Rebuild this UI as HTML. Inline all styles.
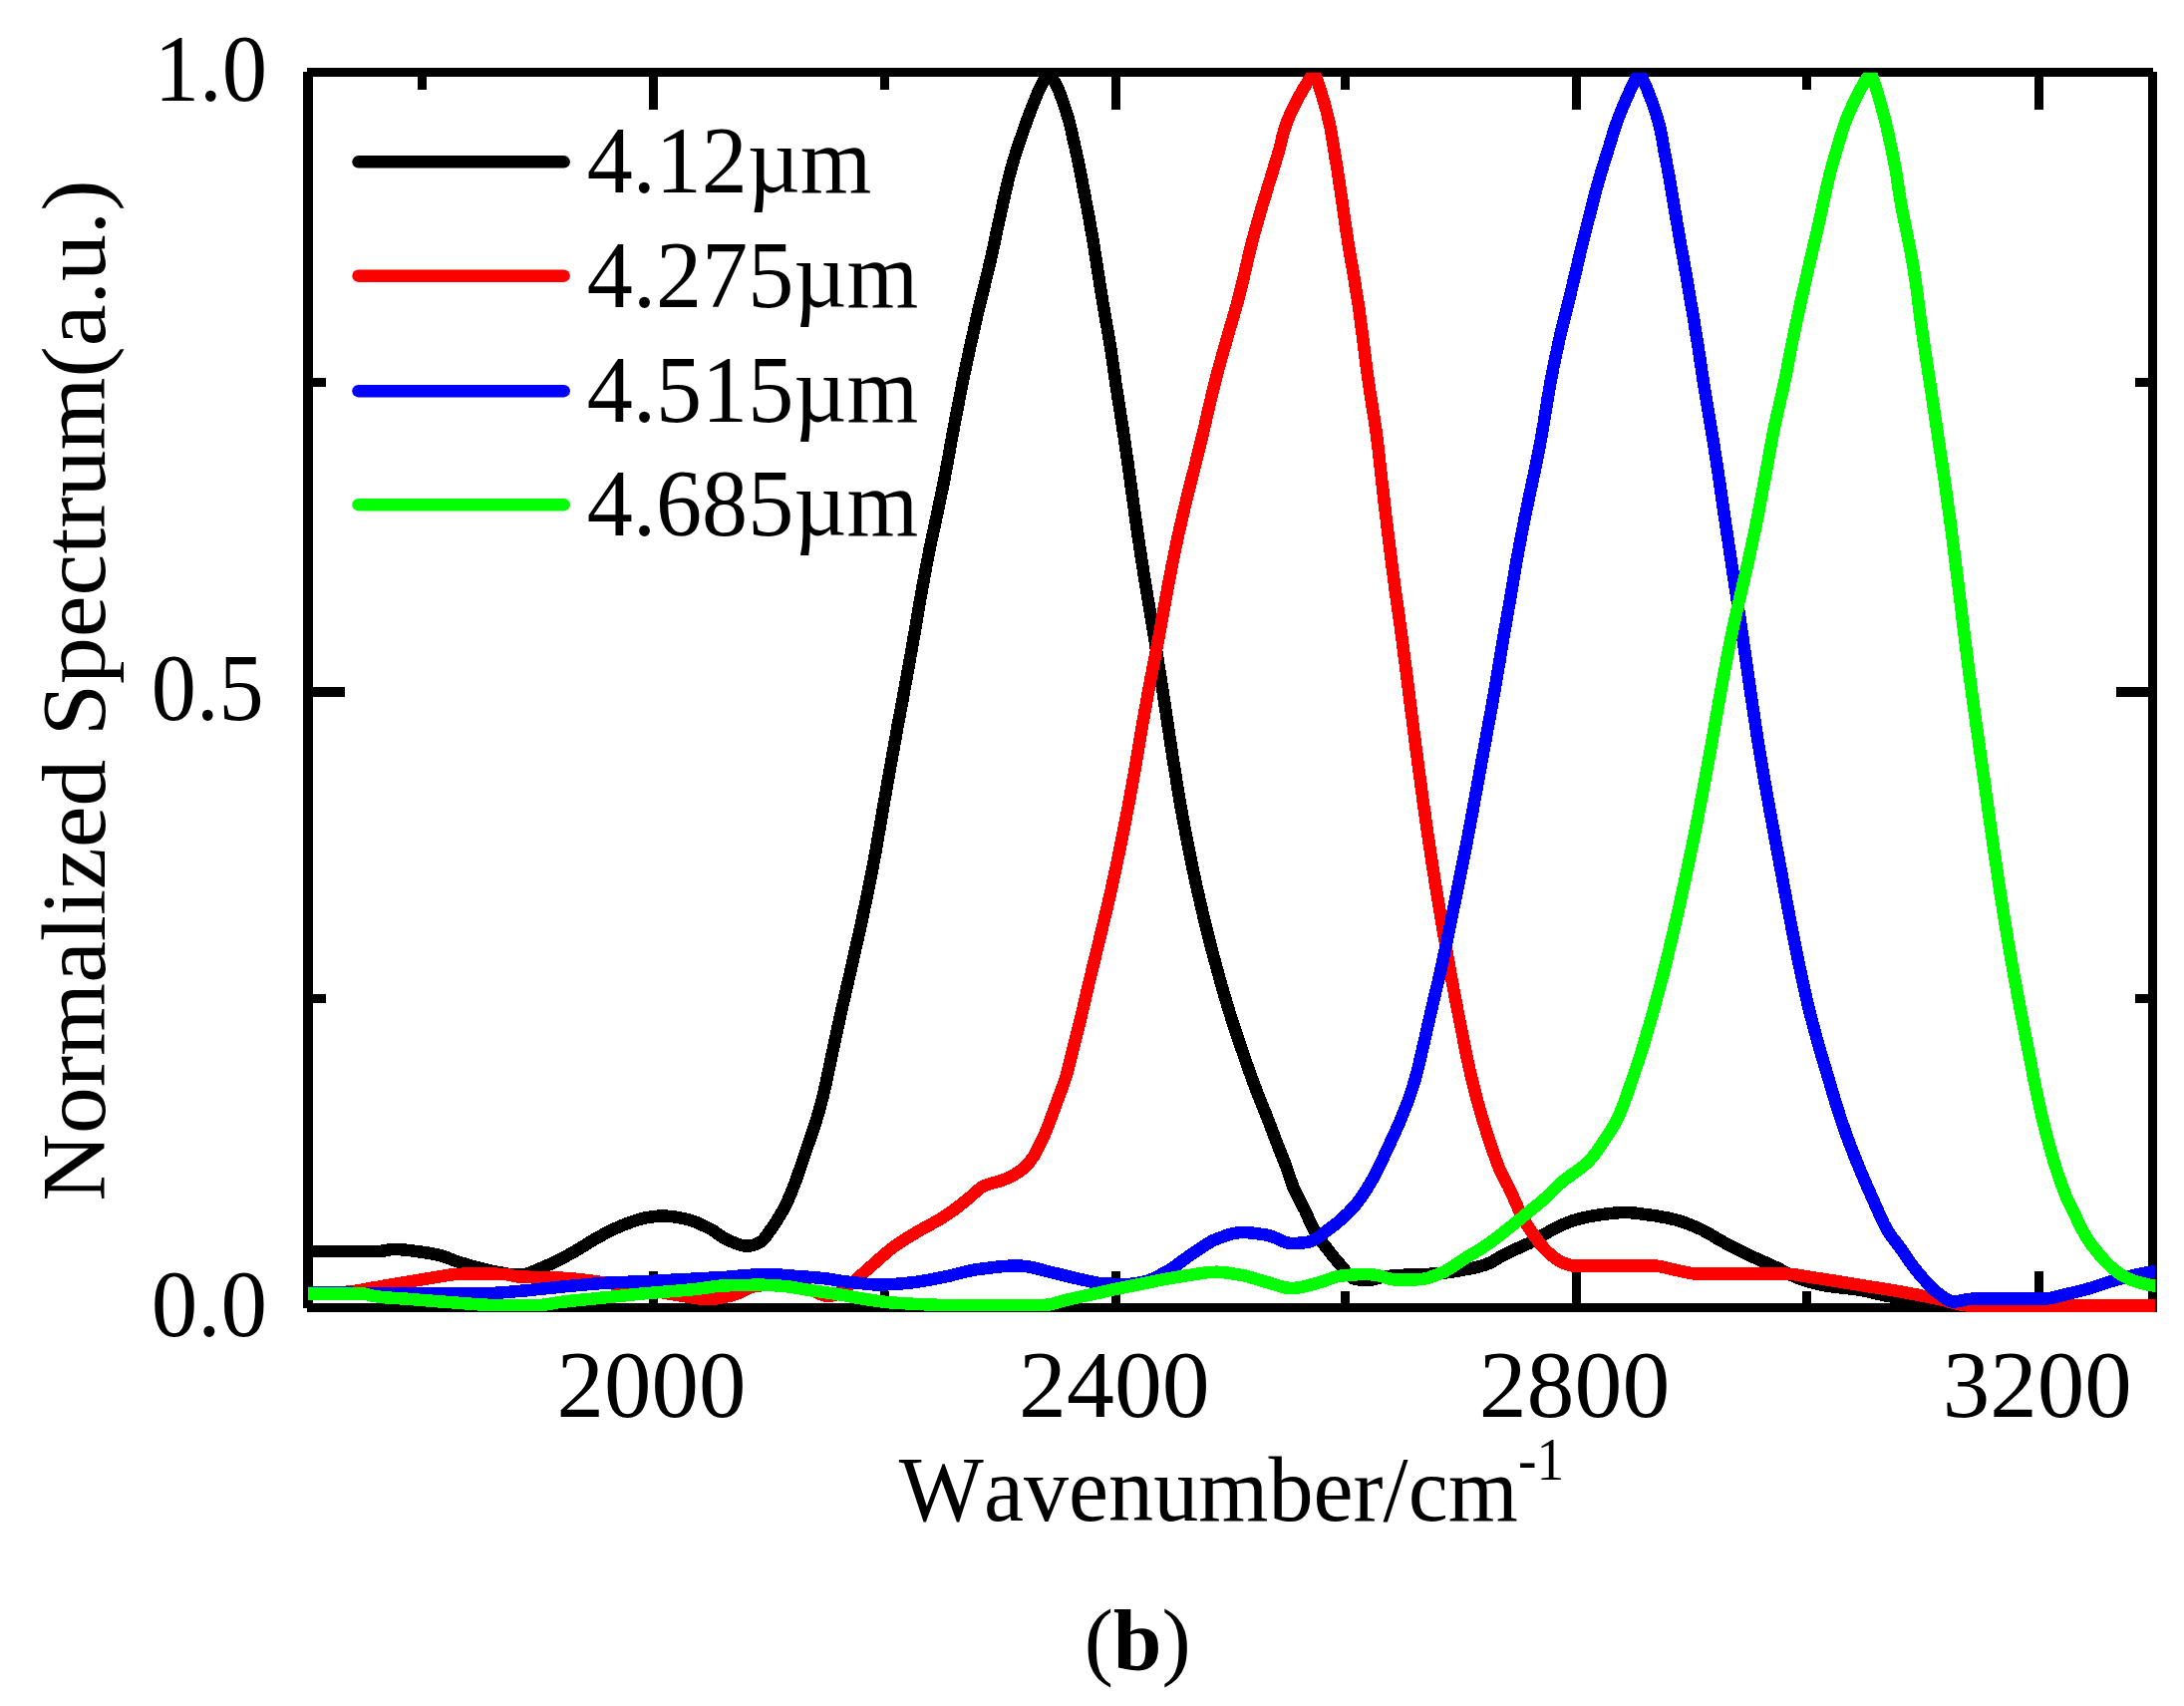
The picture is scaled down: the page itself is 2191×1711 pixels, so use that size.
<!DOCTYPE html>
<html lang="en"><head><meta charset="utf-8"><title>Normalized Spectrum (b)</title>
<style>html,body{margin:0;padding:0;background:#fff;}body{width:2191px;height:1711px;overflow:hidden;}svg{display:block;}text{font-family:"Liberation Serif",serif;font-kerning:none;fill:#000;}</style></head><body>
<svg width="2191" height="1711" viewBox="0 0 2191 1711">
<rect x="0" y="0" width="2191" height="1711" fill="#fff"/>
<defs><clipPath id="plotclip"><rect x="309" y="72.8" width="1853.5" height="1243.2"/></clipPath></defs>
<g stroke="#000" stroke-width="9.5" fill="none" stroke-linecap="butt" shape-rendering="crispEdges">
<path d="M309.0 71.5 V1311.5"/>
<path d="M2159.5 71.5 V1316.0"/>
<path d="M308.0 72.5 H2160.0"/>
<path d="M308.0 1311.5 H2164.0"/>
</g>
<g stroke="#000" stroke-width="9.0" fill="none" shape-rendering="crispEdges">
<path d="M655.5 76.2 v34"/>
<path d="M655.5 1307.8 v-33"/>
<path d="M1119.5 76.2 v34"/>
<path d="M1119.5 1307.8 v-33"/>
<path d="M1581.5 76.2 v34"/>
<path d="M1581.5 1307.8 v-33"/>
<path d="M2045.5 76.2 v34"/>
<path d="M2045.5 1307.8 v-33"/>
<path d="M423.5 76.2 v14"/>
<path d="M423.5 1307.8 v-13"/>
<path d="M887.5 76.2 v14"/>
<path d="M887.5 1307.8 v-13"/>
<path d="M1349.5 76.2 v14"/>
<path d="M1349.5 1307.8 v-13"/>
<path d="M1812.5 76.2 v14"/>
<path d="M1812.5 1307.8 v-13"/>
<path stroke-width="10" d="M312.8 694.0 h33"/>
<path stroke-width="10" d="M2155.8 694.0 h-33"/>
<path d="M312.8 383.5 h14"/>
<path d="M2155.8 383.5 h-14"/>
<path d="M312.8 1001.5 h14"/>
<path d="M2155.8 1001.5 h-14"/>
</g>
<g clip-path="url(#plotclip)" fill="none" stroke-width="12.5" stroke-linejoin="round" stroke-linecap="butt" shape-rendering="crispEdges">
<path stroke="#000000" d="M300.0 1255.0 L304.0 1255.0 L308.0 1255.0 L312.0 1255.0 L316.1 1255.0 L320.1 1255.0 L324.1 1255.0 L328.1 1255.0 L332.1 1255.0 L336.1 1255.0 L340.1 1255.0 L344.2 1255.0 L348.2 1255.0 L352.2 1255.0 L356.2 1255.0 L360.2 1255.0 L364.2 1255.0 L368.2 1255.0 L372.3 1255.0 L376.3 1255.0 L380.3 1255.0 L384.3 1254.6 L388.3 1253.8 L392.3 1253.2 L396.3 1253.0 L400.4 1253.1 L404.4 1253.4 L408.4 1253.8 L412.4 1254.3 L416.4 1254.8 L420.4 1255.4 L424.4 1255.9 L428.5 1256.5 L432.5 1257.2 L436.5 1257.9 L440.5 1258.8 L444.5 1260.0 L448.5 1261.4 L452.6 1262.9 L456.6 1264.5 L460.6 1265.9 L464.6 1267.1 L468.6 1268.3 L472.6 1269.5 L476.6 1270.6 L480.7 1271.7 L484.7 1272.7 L488.7 1273.7 L492.7 1274.6 L496.7 1275.4 L500.7 1276.1 L504.7 1276.9 L508.8 1277.6 L512.8 1278.2 L516.8 1278.6 L520.8 1278.7 L524.8 1278.3 L528.8 1277.4 L532.8 1276.0 L536.9 1274.5 L540.9 1272.7 L544.9 1270.9 L548.9 1269.2 L552.9 1267.5 L556.9 1265.6 L560.9 1263.6 L565.0 1261.5 L569.0 1259.3 L573.0 1257.1 L577.0 1254.9 L581.0 1252.5 L585.0 1250.0 L589.0 1247.5 L593.1 1245.0 L597.1 1242.6 L601.1 1240.4 L605.1 1238.2 L609.1 1236.1 L613.1 1234.0 L617.1 1232.1 L621.2 1230.3 L625.2 1228.6 L629.2 1227.1 L633.2 1225.6 L637.2 1224.2 L641.2 1223.0 L645.2 1221.9 L649.3 1221.1 L653.3 1220.5 L657.3 1220.0 L661.3 1219.6 L665.3 1219.5 L669.3 1219.7 L673.3 1220.0 L677.4 1220.6 L681.4 1221.3 L685.4 1222.1 L689.4 1222.9 L693.4 1224.1 L697.4 1225.5 L701.4 1227.2 L705.5 1229.0 L709.5 1231.0 L713.5 1233.0 L717.5 1235.6 L721.5 1238.5 L725.5 1241.3 L729.6 1243.5 L733.6 1245.2 L737.6 1246.8 L741.6 1248.3 L745.6 1249.3 L749.6 1249.7 L753.6 1249.3 L757.7 1248.1 L761.7 1246.4 L765.7 1243.5 L769.7 1238.3 L773.7 1232.5 L777.7 1226.7 L781.7 1220.4 L785.8 1213.3 L789.8 1205.3 L793.8 1196.0 L797.8 1185.8 L801.8 1174.4 L805.8 1162.8 L809.8 1150.8 L813.9 1139.0 L817.9 1126.9 L821.8 1113.8 L825.6 1099.5 L828.8 1085.5 L831.2 1073.9 L833.2 1064.7 L834.9 1056.5 L836.6 1048.5 L838.3 1040.5 L840.0 1032.5 L841.8 1024.5 L843.5 1016.5 L845.3 1008.5 L847.2 1000.5 L849.0 992.5 L850.8 984.5 L852.7 976.5 L854.5 968.5 L856.3 960.5 L858.1 952.5 L859.9 944.5 L861.7 936.5 L863.5 928.5 L865.2 920.5 L866.9 912.5 L868.6 904.5 L870.2 896.5 L871.8 888.5 L873.4 880.5 L875.0 872.5 L876.5 864.5 L878.0 856.5 L879.4 848.5 L880.8 840.5 L882.2 832.5 L883.6 824.5 L885.0 816.5 L886.3 808.5 L887.7 800.5 L889.1 792.5 L890.5 784.5 L891.9 776.5 L893.3 768.5 L894.8 760.5 L896.2 752.5 L897.6 744.5 L899.1 736.5 L900.5 728.5 L902.0 720.5 L903.5 712.5 L905.0 704.5 L906.4 696.5 L907.9 688.5 L909.4 680.5 L910.8 672.5 L912.3 664.5 L913.7 656.5 L915.1 648.5 L916.5 640.5 L917.9 632.5 L919.2 624.5 L920.6 616.5 L922.0 608.5 L923.3 600.5 L924.8 592.5 L926.2 584.5 L927.7 576.5 L929.1 568.5 L930.7 560.5 L932.3 552.5 L933.9 544.5 L935.6 536.5 L937.4 528.5 L939.1 520.5 L940.8 512.5 L942.5 504.5 L944.1 496.5 L945.8 488.5 L947.4 480.5 L948.9 472.5 L950.4 464.5 L951.9 456.5 L953.3 448.5 L954.7 440.5 L956.2 432.5 L957.7 424.5 L959.2 416.5 L960.8 408.5 L962.3 400.5 L963.9 392.5 L965.5 384.5 L967.1 376.5 L968.8 368.5 L970.5 360.5 L972.2 352.5 L974.0 344.5 L975.8 336.5 L977.6 328.5 L979.4 320.5 L981.2 312.5 L983.1 304.5 L985.1 296.5 L987.1 288.5 L989.0 280.5 L991.0 272.5 L992.9 264.5 L994.7 256.5 L996.5 248.5 L998.2 240.5 L999.9 232.5 L1001.6 224.5 L1003.4 216.5 L1005.2 208.5 L1006.9 200.5 L1008.7 192.5 L1010.6 184.5 L1012.5 176.5 L1014.7 168.5 L1016.9 160.5 L1019.4 152.5 L1022.0 144.5 L1024.8 136.5 L1027.6 128.5 L1030.4 120.5 L1033.4 112.5 L1036.5 104.5 L1039.7 96.5 L1043.1 88.5 L1047.3 80.5 L1052.0 72.5 L1057.0 80.5 L1061.3 88.5 L1064.4 96.5 L1067.2 104.5 L1069.8 112.5 L1072.2 120.5 L1074.3 128.5 L1076.0 136.5 L1077.8 144.5 L1079.6 152.5 L1081.4 160.5 L1083.0 168.5 L1084.6 176.5 L1086.1 184.5 L1087.6 192.5 L1089.1 200.5 L1090.7 208.5 L1092.2 216.5 L1093.6 224.5 L1095.0 232.5 L1096.4 240.5 L1097.7 248.5 L1098.9 256.5 L1100.2 264.5 L1101.4 272.5 L1102.7 280.5 L1103.9 288.5 L1105.2 296.5 L1106.5 304.5 L1107.9 312.5 L1109.3 320.5 L1110.7 328.5 L1112.1 336.5 L1113.4 344.5 L1114.7 352.5 L1115.9 360.5 L1117.0 368.5 L1118.2 376.5 L1119.3 384.5 L1120.6 392.5 L1121.8 400.5 L1123.1 408.5 L1124.3 416.5 L1125.6 424.5 L1126.8 432.5 L1128.0 440.5 L1129.1 448.5 L1130.3 456.5 L1131.5 464.5 L1132.6 472.5 L1133.7 480.5 L1134.8 488.5 L1135.9 496.5 L1137.0 504.5 L1138.1 512.5 L1139.2 520.5 L1140.4 528.5 L1141.5 536.5 L1142.7 544.5 L1143.9 552.5 L1145.1 560.5 L1146.4 568.5 L1147.6 576.5 L1148.9 584.5 L1150.2 592.5 L1151.5 600.5 L1152.9 608.5 L1154.2 616.5 L1155.6 624.5 L1156.9 632.5 L1158.2 640.5 L1159.5 648.5 L1160.8 656.5 L1162.0 664.5 L1163.3 672.5 L1164.5 680.5 L1165.8 688.5 L1167.0 696.5 L1168.2 704.5 L1169.4 712.5 L1170.6 720.5 L1171.8 728.5 L1173.0 736.5 L1174.2 744.5 L1175.4 752.5 L1176.6 760.5 L1177.9 768.5 L1179.2 776.5 L1180.5 784.5 L1181.8 792.5 L1183.1 800.5 L1184.5 808.5 L1185.9 816.5 L1187.4 824.5 L1188.9 832.5 L1190.4 840.5 L1192.0 848.5 L1193.6 856.5 L1195.2 864.5 L1196.9 872.5 L1198.6 880.5 L1200.3 888.5 L1202.1 896.5 L1204.0 904.5 L1205.8 912.5 L1207.7 920.5 L1209.7 928.5 L1211.6 936.5 L1213.7 944.5 L1215.7 952.5 L1217.8 960.5 L1220.0 968.5 L1222.2 976.5 L1224.4 984.5 L1226.7 992.5 L1229.0 1000.5 L1231.4 1008.5 L1233.8 1016.5 L1236.4 1024.5 L1239.0 1032.5 L1241.6 1040.5 L1244.4 1048.5 L1247.1 1056.4 L1249.6 1063.8 L1252.0 1070.6 L1254.6 1077.9 L1257.8 1086.7 L1261.5 1096.6 L1265.5 1106.5 L1269.5 1116.3 L1273.5 1126.5 L1277.5 1137.1 L1281.5 1147.6 L1285.5 1157.8 L1289.5 1167.7 L1293.5 1179.5 L1297.5 1190.7 L1301.5 1199.2 L1305.5 1206.7 L1309.5 1214.5 L1313.5 1223.8 L1317.5 1232.2 L1321.5 1238.8 L1325.5 1244.6 L1329.5 1249.9 L1333.5 1255.0 L1337.5 1260.1 L1341.5 1264.9 L1345.5 1269.5 L1349.5 1274.3 L1353.5 1279.1 L1357.5 1282.2 L1361.5 1283.1 L1365.5 1283.7 L1369.5 1284.0 L1373.5 1283.9 L1377.5 1283.2 L1381.5 1282.3 L1385.5 1281.2 L1389.5 1280.3 L1393.6 1279.8 L1397.6 1279.5 L1401.6 1279.2 L1405.6 1278.9 L1409.6 1278.7 L1413.6 1278.5 L1417.6 1278.3 L1421.6 1278.2 L1425.6 1278.1 L1429.6 1277.9 L1433.6 1277.8 L1437.6 1277.6 L1441.6 1277.4 L1445.6 1277.0 L1449.6 1276.6 L1453.6 1276.0 L1457.6 1275.4 L1461.6 1274.7 L1465.6 1274.0 L1469.6 1273.3 L1473.6 1272.6 L1477.6 1271.8 L1481.6 1270.8 L1485.6 1269.8 L1489.6 1268.6 L1493.6 1267.0 L1497.6 1265.0 L1501.6 1262.7 L1505.6 1260.3 L1509.6 1258.0 L1513.6 1256.0 L1517.6 1254.2 L1521.6 1252.4 L1525.6 1250.7 L1529.6 1248.9 L1533.6 1247.0 L1537.6 1244.8 L1541.6 1242.5 L1545.6 1240.1 L1549.6 1237.7 L1553.6 1235.4 L1557.6 1233.4 L1561.6 1231.3 L1565.7 1229.3 L1569.7 1227.4 L1573.7 1225.8 L1577.7 1224.3 L1581.7 1223.2 L1585.7 1222.1 L1589.7 1221.1 L1593.7 1220.2 L1597.7 1219.5 L1601.7 1218.8 L1605.7 1218.2 L1609.7 1217.7 L1613.7 1217.2 L1617.7 1216.8 L1621.7 1216.5 L1625.7 1216.1 L1629.7 1216.0 L1633.7 1216.1 L1637.7 1216.4 L1641.7 1216.8 L1645.7 1217.3 L1649.7 1217.9 L1653.7 1218.4 L1657.7 1218.9 L1661.7 1219.5 L1665.7 1220.2 L1669.7 1220.9 L1673.7 1221.7 L1677.7 1222.6 L1681.7 1223.6 L1685.7 1224.7 L1689.7 1226.1 L1693.7 1227.5 L1697.7 1229.1 L1701.7 1230.8 L1705.7 1232.6 L1709.7 1234.6 L1713.7 1236.8 L1717.7 1239.1 L1721.7 1241.6 L1725.7 1243.9 L1729.7 1246.1 L1733.7 1248.2 L1737.8 1250.3 L1741.8 1252.4 L1745.8 1254.4 L1749.8 1256.4 L1753.8 1258.3 L1757.8 1260.2 L1761.8 1262.1 L1765.8 1263.8 L1769.8 1265.6 L1773.8 1267.4 L1777.8 1269.2 L1781.8 1271.1 L1785.8 1273.1 L1789.8 1275.2 L1793.8 1277.3 L1797.8 1279.2 L1801.8 1281.0 L1805.8 1282.5 L1809.8 1283.8 L1813.8 1285.1 L1817.8 1286.3 L1821.8 1287.3 L1825.8 1288.3 L1829.8 1289.1 L1833.8 1289.7 L1837.8 1290.3 L1841.8 1290.8 L1845.8 1291.3 L1849.8 1291.8 L1853.8 1292.2 L1857.8 1292.7 L1861.8 1293.2 L1865.8 1293.8 L1869.8 1294.5 L1873.8 1295.3 L1877.8 1296.2 L1881.8 1297.2 L1885.8 1298.1 L1889.8 1299.0 L1893.8 1299.8 L1897.8 1300.5 L1901.8 1301.1 L1905.8 1301.7 L1909.8 1302.3 L1913.9 1302.8 L1917.9 1303.4 L1921.9 1304.0 L1925.9 1304.6 L1929.9 1305.2 L1933.9 1305.8 L1937.9 1306.4 L1941.9 1307.0 L1945.9 1307.5 L1949.9 1308.0 L1953.9 1308.4 L1957.9 1308.8 L1961.9 1309.1 L1965.9 1309.4 L1969.9 1309.7 L1973.9 1310.0 L1977.9 1310.2 L1981.9 1310.5 L1985.9 1310.7 L1989.9 1310.8 L1993.9 1310.9 L1997.9 1311.0 L2001.9 1311.0 L2005.9 1311.0 L2009.9 1311.0 L2013.9 1311.0 L2017.9 1311.0 L2021.9 1311.0 L2025.9 1311.0 L2029.9 1311.0 L2033.9 1311.0 L2037.9 1311.0 L2041.9 1311.0 L2045.9 1311.0 L2049.9 1311.0 L2053.9 1311.0 L2057.9 1311.0 L2061.9 1311.0 L2065.9 1311.0 L2069.9 1311.0 L2073.9 1311.0 L2077.9 1311.0 L2081.9 1311.0 L2086.0 1311.0 L2090.0 1311.0 L2094.0 1311.0 L2098.0 1311.0 L2102.0 1311.0 L2106.0 1311.0 L2110.0 1311.0 L2114.0 1311.0 L2118.0 1311.0 L2122.0 1311.0 L2126.0 1311.0 L2130.0 1311.0 L2134.0 1311.0 L2138.0 1311.0 L2142.0 1311.0 L2146.0 1311.0 L2150.0 1311.0 L2154.0 1311.0 L2158.0 1311.0 L2162.0 1311.0 L2166.0 1311.0 L2170.0 1311.0"/>
<path stroke="#ff0000" d="M300.0 1296.5 L304.0 1296.5 L308.0 1296.5 L312.0 1296.5 L316.0 1296.5 L320.0 1296.5 L324.0 1296.5 L328.0 1296.5 L332.0 1296.5 L336.0 1296.5 L340.0 1296.3 L344.0 1296.0 L348.0 1295.7 L352.0 1295.3 L356.0 1294.8 L360.1 1294.1 L364.1 1293.4 L368.1 1292.7 L372.1 1291.9 L376.1 1291.2 L380.1 1290.6 L384.1 1289.9 L388.1 1289.2 L392.1 1288.5 L396.1 1287.9 L400.1 1287.2 L404.1 1286.5 L408.1 1285.9 L412.1 1285.2 L416.1 1284.5 L420.1 1283.8 L424.1 1283.1 L428.1 1282.5 L432.1 1281.8 L436.1 1281.1 L440.1 1280.5 L444.1 1279.8 L448.1 1279.1 L452.1 1278.5 L456.1 1278.1 L460.1 1277.9 L464.1 1277.7 L468.1 1277.6 L472.1 1277.5 L476.1 1277.5 L480.2 1277.5 L484.2 1277.5 L488.2 1277.6 L492.2 1277.6 L496.2 1277.7 L500.2 1277.8 L504.2 1277.9 L508.2 1278.1 L512.2 1278.9 L516.2 1279.9 L520.2 1280.5 L524.2 1280.6 L528.2 1280.7 L532.2 1280.8 L536.2 1280.8 L540.2 1280.8 L544.2 1280.9 L548.2 1281.0 L552.2 1281.1 L556.2 1281.2 L560.2 1281.4 L564.2 1281.7 L568.2 1282.0 L572.2 1282.3 L576.2 1282.6 L580.2 1283.0 L584.2 1283.4 L588.2 1283.9 L592.2 1284.5 L596.2 1285.0 L600.3 1285.5 L604.3 1286.1 L608.3 1286.6 L612.3 1287.1 L616.3 1287.7 L620.3 1288.2 L624.3 1288.8 L628.3 1289.4 L632.3 1290.0 L636.3 1290.7 L640.3 1291.4 L644.3 1292.2 L648.3 1293.0 L652.3 1293.8 L656.3 1294.6 L660.3 1295.4 L664.3 1296.2 L668.3 1297.0 L672.3 1297.7 L676.3 1298.4 L680.3 1299.0 L684.3 1299.7 L688.3 1300.4 L692.3 1301.1 L696.3 1301.8 L700.3 1302.3 L704.3 1302.8 L708.3 1303.0 L712.3 1302.9 L716.4 1302.6 L720.4 1302.1 L724.4 1301.3 L728.4 1300.5 L732.4 1299.6 L736.4 1298.6 L740.4 1297.2 L744.4 1295.3 L748.4 1293.3 L752.4 1291.5 L756.4 1290.1 L760.4 1289.5 L764.4 1289.2 L768.4 1289.0 L772.4 1288.9 L776.4 1288.7 L780.4 1288.6 L784.4 1288.5 L788.4 1288.5 L792.4 1288.6 L796.4 1289.2 L800.4 1290.1 L804.4 1291.3 L808.4 1292.5 L812.4 1293.6 L816.4 1295.0 L820.4 1296.8 L824.4 1298.4 L828.4 1299.6 L832.4 1300.0 L836.5 1299.1 L840.5 1297.1 L844.5 1294.4 L848.5 1291.3 L852.5 1288.2 L856.5 1285.3 L860.5 1281.9 L864.5 1278.3 L868.5 1274.7 L872.5 1271.2 L876.5 1267.7 L880.5 1264.1 L884.5 1260.5 L888.5 1257.0 L892.5 1253.7 L896.5 1250.6 L900.5 1247.8 L904.5 1245.1 L908.5 1242.6 L912.5 1240.1 L916.5 1237.7 L920.5 1235.3 L924.5 1233.0 L928.5 1230.8 L932.5 1228.6 L936.5 1226.5 L940.5 1224.3 L944.5 1221.9 L948.5 1219.3 L952.6 1216.6 L956.6 1213.7 L960.6 1210.7 L964.6 1207.6 L968.6 1204.4 L972.6 1201.2 L976.6 1197.5 L980.6 1193.8 L984.6 1190.8 L988.6 1188.8 L992.6 1187.4 L996.6 1186.2 L1000.6 1185.2 L1004.6 1184.0 L1008.6 1182.5 L1012.6 1180.7 L1016.6 1178.6 L1020.6 1176.3 L1024.6 1173.6 L1028.6 1170.2 L1032.6 1165.7 L1036.6 1160.3 L1040.6 1153.1 L1044.6 1145.2 L1048.6 1136.2 L1052.6 1126.1 L1056.6 1115.3 L1060.6 1104.4 L1064.3 1094.4 L1067.4 1085.9 L1069.7 1078.8 L1071.6 1071.9 L1073.4 1064.4 L1075.4 1056.5 L1077.4 1048.5 L1079.4 1040.5 L1081.4 1032.5 L1083.4 1024.5 L1085.3 1016.5 L1087.2 1008.5 L1089.1 1000.5 L1090.9 992.5 L1092.8 984.5 L1094.7 976.5 L1096.6 968.5 L1098.6 960.5 L1100.5 952.5 L1102.5 944.5 L1104.4 936.5 L1106.3 928.5 L1108.2 920.5 L1110.1 912.5 L1112.0 904.5 L1113.8 896.5 L1115.6 888.5 L1117.3 880.5 L1119.1 872.5 L1120.7 864.5 L1122.4 856.5 L1124.0 848.5 L1125.6 840.5 L1127.2 832.5 L1128.8 824.5 L1130.3 816.5 L1131.9 808.5 L1133.4 800.5 L1134.8 792.5 L1136.3 784.5 L1137.7 776.5 L1139.1 768.5 L1140.4 760.5 L1141.8 752.5 L1143.1 744.5 L1144.5 736.5 L1145.8 728.5 L1147.2 720.5 L1148.6 712.5 L1150.1 704.5 L1151.5 696.5 L1153.0 688.5 L1154.5 680.5 L1156.1 672.5 L1157.6 664.5 L1159.1 656.5 L1160.7 648.5 L1162.2 640.5 L1163.7 632.5 L1165.1 624.5 L1166.6 616.5 L1168.0 608.5 L1169.5 600.5 L1170.9 592.5 L1172.4 584.5 L1174.0 576.5 L1175.5 568.5 L1177.1 560.5 L1178.7 552.5 L1180.4 544.5 L1182.1 536.5 L1183.9 528.5 L1185.7 520.5 L1187.6 512.5 L1189.5 504.5 L1191.4 496.5 L1193.4 488.5 L1195.4 480.5 L1197.5 472.5 L1199.5 464.5 L1201.4 456.5 L1203.4 448.5 L1205.4 440.5 L1207.3 432.5 L1209.2 424.5 L1211.0 416.5 L1212.8 408.5 L1214.7 400.5 L1216.6 392.5 L1218.6 384.5 L1220.6 376.5 L1222.8 368.5 L1225.0 360.5 L1227.3 352.5 L1229.6 344.5 L1231.8 336.5 L1234.1 328.5 L1236.5 320.5 L1238.9 312.5 L1241.1 304.5 L1243.1 296.5 L1245.1 288.5 L1247.1 280.5 L1249.0 272.5 L1250.8 264.5 L1252.6 256.5 L1254.6 248.5 L1256.7 240.5 L1258.8 232.5 L1261.1 224.5 L1263.3 216.5 L1265.7 208.5 L1268.1 200.5 L1270.5 192.5 L1272.9 184.5 L1275.4 176.5 L1277.8 168.5 L1280.3 160.5 L1282.7 152.5 L1284.8 144.5 L1286.6 136.5 L1288.9 128.5 L1291.8 120.5 L1295.3 112.5 L1299.1 104.5 L1303.4 96.5 L1307.9 88.5 L1312.9 80.5 L1318.5 72.5 L1321.4 80.5 L1324.1 88.5 L1326.5 96.5 L1328.9 104.5 L1331.0 112.5 L1332.9 120.5 L1334.7 128.5 L1336.1 136.5 L1337.4 144.5 L1338.7 152.5 L1340.0 160.5 L1341.4 168.5 L1342.6 176.5 L1343.8 184.5 L1345.0 192.5 L1346.2 200.5 L1347.3 208.5 L1348.4 216.5 L1349.6 224.5 L1350.8 232.5 L1352.0 240.5 L1353.3 248.5 L1354.6 256.5 L1356.0 264.5 L1357.4 272.5 L1358.7 280.5 L1360.0 288.5 L1361.3 296.5 L1362.6 304.5 L1363.8 312.5 L1364.8 320.5 L1365.8 328.5 L1366.9 336.5 L1367.9 344.5 L1368.9 352.5 L1369.9 360.5 L1370.9 368.5 L1372.0 376.5 L1373.1 384.5 L1374.3 392.5 L1375.6 400.5 L1376.8 408.5 L1378.1 416.5 L1379.3 424.5 L1380.5 432.5 L1381.5 440.5 L1382.5 448.5 L1383.4 456.5 L1384.3 464.5 L1385.2 472.5 L1386.1 480.5 L1387.0 488.5 L1387.9 496.5 L1388.8 504.5 L1389.7 512.5 L1390.7 520.5 L1391.6 528.5 L1392.6 536.5 L1393.6 544.5 L1394.6 552.5 L1395.6 560.5 L1396.6 568.5 L1397.7 576.5 L1398.8 584.5 L1399.8 592.5 L1400.9 600.5 L1402.1 608.5 L1403.2 616.5 L1404.3 624.5 L1405.4 632.5 L1406.5 640.5 L1407.5 648.5 L1408.5 656.5 L1409.6 664.5 L1410.6 672.5 L1411.6 680.5 L1412.6 688.5 L1413.6 696.5 L1414.6 704.5 L1415.6 712.5 L1416.7 720.5 L1417.7 728.5 L1418.7 736.5 L1419.8 744.5 L1420.8 752.5 L1421.9 760.5 L1422.9 768.5 L1424.0 776.5 L1425.1 784.5 L1426.2 792.5 L1427.2 800.5 L1428.3 808.5 L1429.5 816.5 L1430.6 824.5 L1431.7 832.5 L1432.9 840.5 L1434.1 848.5 L1435.3 856.5 L1436.5 864.5 L1437.8 872.5 L1439.0 880.5 L1440.3 888.5 L1441.6 896.5 L1442.9 904.5 L1444.3 912.5 L1445.6 920.5 L1446.9 928.5 L1448.3 936.5 L1449.7 944.5 L1451.1 952.5 L1452.5 960.5 L1453.9 968.5 L1455.3 976.5 L1456.8 984.5 L1458.3 992.5 L1459.8 1000.5 L1461.4 1008.5 L1462.9 1016.5 L1464.5 1024.5 L1466.1 1032.5 L1467.7 1040.5 L1469.2 1048.4 L1470.7 1056.0 L1472.3 1063.7 L1474.4 1073.2 L1477.4 1085.6 L1481.0 1100.1 L1485.0 1114.4 L1489.0 1127.9 L1493.0 1140.6 L1497.0 1152.6 L1501.0 1163.8 L1505.0 1174.2 L1509.0 1182.0 L1513.0 1189.5 L1517.0 1198.1 L1521.1 1207.3 L1525.1 1216.2 L1529.1 1223.7 L1533.1 1230.5 L1537.1 1236.6 L1541.1 1242.2 L1545.1 1247.4 L1549.1 1252.1 L1553.1 1256.0 L1557.1 1259.5 L1561.1 1262.7 L1565.1 1265.1 L1569.1 1266.9 L1573.1 1268.3 L1577.1 1269.3 L1581.1 1269.5 L1585.1 1269.5 L1589.2 1269.5 L1593.2 1269.5 L1597.2 1269.5 L1601.2 1269.5 L1605.2 1269.5 L1609.2 1269.5 L1613.2 1269.5 L1617.2 1269.5 L1621.2 1269.5 L1625.2 1269.5 L1629.2 1269.5 L1633.2 1269.5 L1637.2 1269.5 L1641.2 1269.5 L1645.2 1269.5 L1649.2 1269.5 L1653.2 1269.5 L1657.2 1269.5 L1661.3 1269.6 L1665.3 1270.1 L1669.3 1271.0 L1673.3 1272.0 L1677.3 1273.0 L1681.3 1273.8 L1685.3 1274.7 L1689.3 1275.6 L1693.3 1276.4 L1697.3 1277.1 L1701.3 1277.6 L1705.3 1277.7 L1709.3 1277.7 L1713.3 1277.7 L1717.3 1277.7 L1721.3 1277.7 L1725.3 1277.7 L1729.4 1277.7 L1733.4 1277.7 L1737.4 1277.7 L1741.4 1277.7 L1745.4 1277.7 L1749.4 1277.7 L1753.4 1277.7 L1757.4 1277.7 L1761.4 1277.7 L1765.4 1277.7 L1769.4 1277.7 L1773.4 1277.7 L1777.4 1277.7 L1781.4 1277.7 L1785.4 1277.7 L1789.4 1277.7 L1793.4 1277.7 L1797.5 1278.0 L1801.5 1278.4 L1805.5 1279.0 L1809.5 1279.7 L1813.5 1280.4 L1817.5 1281.1 L1821.5 1281.7 L1825.5 1282.3 L1829.5 1282.9 L1833.5 1283.6 L1837.5 1284.2 L1841.5 1284.8 L1845.5 1285.5 L1849.5 1286.2 L1853.5 1286.8 L1857.5 1287.5 L1861.5 1288.1 L1865.6 1288.8 L1869.6 1289.4 L1873.6 1290.1 L1877.6 1290.7 L1881.6 1291.3 L1885.6 1292.0 L1889.6 1292.6 L1893.6 1293.3 L1897.6 1293.9 L1901.6 1294.6 L1905.6 1295.3 L1909.6 1296.1 L1913.6 1296.8 L1917.6 1297.6 L1921.6 1298.3 L1925.6 1299.1 L1929.6 1299.9 L1933.7 1300.7 L1937.7 1301.5 L1941.7 1302.3 L1945.7 1303.1 L1949.7 1304.1 L1953.7 1305.1 L1957.7 1306.2 L1961.7 1307.2 L1965.7 1308.2 L1969.7 1308.9 L1973.7 1309.4 L1977.7 1309.5 L1981.7 1309.5 L1985.7 1309.5 L1989.7 1309.5 L1993.7 1309.5 L1997.7 1309.5 L2001.8 1309.5 L2005.8 1309.5 L2009.8 1309.5 L2013.8 1309.5 L2017.8 1309.5 L2021.8 1309.5 L2025.8 1309.5 L2029.8 1309.5 L2033.8 1309.5 L2037.8 1309.5 L2041.8 1309.5 L2045.8 1309.5 L2049.8 1309.5 L2053.8 1309.5 L2057.8 1309.5 L2061.8 1309.5 L2065.8 1309.5 L2069.9 1309.5 L2073.9 1309.5 L2077.9 1309.5 L2081.9 1309.5 L2085.9 1309.5 L2089.9 1309.5 L2093.9 1309.5 L2097.9 1309.5 L2101.9 1309.5 L2105.9 1309.5 L2109.9 1309.5 L2113.9 1309.5 L2117.9 1309.5 L2121.9 1309.5 L2125.9 1309.5 L2129.9 1309.5 L2133.9 1309.5 L2138.0 1309.5 L2142.0 1309.5 L2146.0 1309.5 L2150.0 1309.5 L2154.0 1309.5 L2158.0 1309.5 L2162.0 1309.5 L2166.0 1309.5 L2170.0 1309.5"/>
<path stroke="#0000ff" d="M300.0 1295.8 L304.0 1295.9 L308.0 1296.0 L312.0 1296.0 L316.0 1296.1 L320.0 1296.2 L324.0 1296.3 L328.0 1296.3 L332.0 1296.4 L336.0 1296.5 L340.0 1296.5 L344.0 1296.6 L348.0 1296.7 L352.0 1296.7 L356.0 1296.8 L360.0 1296.8 L364.0 1296.9 L368.0 1296.9 L372.0 1297.0 L376.0 1297.0 L380.0 1297.0 L384.0 1297.1 L388.1 1297.1 L392.1 1297.2 L396.1 1297.2 L400.1 1297.2 L404.1 1297.3 L408.1 1297.3 L412.1 1297.3 L416.1 1297.4 L420.1 1297.4 L424.1 1297.4 L428.1 1297.4 L432.1 1297.5 L436.1 1297.5 L440.1 1297.5 L444.1 1297.5 L448.1 1297.5 L452.1 1297.5 L456.1 1297.5 L460.1 1297.5 L464.1 1297.4 L468.1 1297.4 L472.1 1297.3 L476.1 1297.3 L480.1 1297.2 L484.1 1297.1 L488.1 1297.0 L492.1 1296.9 L496.1 1296.8 L500.1 1296.6 L504.1 1296.3 L508.1 1296.0 L512.1 1295.7 L516.1 1295.3 L520.1 1295.0 L524.1 1294.6 L528.1 1294.3 L532.1 1293.9 L536.1 1293.5 L540.1 1293.0 L544.1 1292.6 L548.1 1292.2 L552.1 1291.8 L556.2 1291.4 L560.2 1291.0 L564.2 1290.6 L568.2 1290.1 L572.2 1289.8 L576.2 1289.4 L580.2 1289.0 L584.2 1288.7 L588.2 1288.3 L592.2 1287.9 L596.2 1287.6 L600.2 1287.3 L604.2 1287.0 L608.2 1286.7 L612.2 1286.5 L616.2 1286.3 L620.2 1286.1 L624.2 1286.0 L628.2 1285.8 L632.2 1285.7 L636.2 1285.5 L640.2 1285.4 L644.2 1285.2 L648.2 1285.1 L652.2 1284.9 L656.2 1284.7 L660.2 1284.5 L664.2 1284.3 L668.2 1284.1 L672.2 1283.8 L676.2 1283.6 L680.2 1283.4 L684.2 1283.2 L688.2 1283.0 L692.2 1282.8 L696.2 1282.6 L700.2 1282.4 L704.2 1282.2 L708.2 1282.0 L712.2 1281.7 L716.2 1281.5 L720.2 1281.3 L724.2 1281.0 L728.3 1280.8 L732.3 1280.5 L736.3 1280.2 L740.3 1279.8 L744.3 1279.4 L748.3 1279.1 L752.3 1278.8 L756.3 1278.5 L760.3 1278.3 L764.3 1278.1 L768.3 1278.0 L772.3 1278.0 L776.3 1278.2 L780.3 1278.4 L784.3 1278.7 L788.3 1279.0 L792.3 1279.4 L796.3 1279.7 L800.3 1280.0 L804.3 1280.3 L808.3 1280.6 L812.3 1280.9 L816.3 1281.2 L820.3 1281.6 L824.3 1281.9 L828.3 1282.4 L832.3 1282.9 L836.3 1283.5 L840.3 1284.2 L844.3 1284.8 L848.3 1285.3 L852.3 1285.8 L856.3 1286.2 L860.3 1286.7 L864.3 1287.2 L868.3 1287.6 L872.3 1288.0 L876.3 1288.3 L880.3 1288.5 L884.3 1288.5 L888.3 1288.4 L892.3 1288.2 L896.3 1288.0 L900.4 1287.7 L904.4 1287.4 L908.4 1287.0 L912.4 1286.6 L916.4 1286.2 L920.4 1285.6 L924.4 1285.0 L928.4 1284.3 L932.4 1283.6 L936.4 1282.8 L940.4 1282.1 L944.4 1281.3 L948.4 1280.5 L952.4 1279.6 L956.4 1278.6 L960.4 1277.5 L964.4 1276.5 L968.4 1275.5 L972.4 1274.6 L976.4 1273.8 L980.4 1273.2 L984.4 1272.7 L988.4 1272.2 L992.4 1271.6 L996.4 1271.2 L1000.4 1270.7 L1004.4 1270.3 L1008.4 1270.0 L1012.4 1269.7 L1016.4 1269.6 L1020.4 1269.5 L1024.4 1269.6 L1028.4 1270.0 L1032.4 1270.6 L1036.4 1271.4 L1040.4 1272.4 L1044.4 1273.4 L1048.4 1274.5 L1052.4 1275.5 L1056.4 1276.5 L1060.4 1277.4 L1064.4 1278.4 L1068.5 1279.4 L1072.5 1280.4 L1076.5 1281.4 L1080.5 1282.3 L1084.5 1283.2 L1088.5 1284.1 L1092.5 1285.0 L1096.5 1285.9 L1100.5 1286.6 L1104.5 1287.2 L1108.5 1287.5 L1112.5 1287.7 L1116.5 1287.8 L1120.5 1287.9 L1124.5 1288.0 L1128.5 1288.0 L1132.5 1287.9 L1136.5 1287.6 L1140.5 1287.0 L1144.5 1286.3 L1148.5 1285.4 L1152.5 1284.2 L1156.5 1282.5 L1160.5 1280.6 L1164.5 1278.5 L1168.5 1276.4 L1172.5 1274.2 L1176.5 1271.6 L1180.5 1268.8 L1184.5 1265.8 L1188.5 1262.8 L1192.5 1259.9 L1196.5 1257.2 L1200.5 1254.5 L1204.5 1251.8 L1208.5 1249.1 L1212.5 1246.6 L1216.5 1244.4 L1220.5 1242.7 L1224.5 1241.2 L1228.5 1239.7 L1232.5 1238.4 L1236.5 1237.3 L1240.6 1236.5 L1244.6 1236.0 L1248.6 1236.0 L1252.6 1236.3 L1256.6 1236.6 L1260.6 1237.1 L1264.6 1237.7 L1268.6 1238.3 L1272.6 1239.0 L1276.6 1240.3 L1280.6 1242.0 L1284.6 1243.8 L1288.6 1245.5 L1292.6 1246.6 L1296.6 1247.0 L1300.6 1246.9 L1304.6 1246.6 L1308.6 1246.3 L1312.6 1245.7 L1316.6 1244.3 L1320.6 1242.1 L1324.6 1239.3 L1328.6 1236.2 L1332.6 1233.2 L1336.6 1230.2 L1340.6 1227.1 L1344.6 1223.8 L1348.6 1220.2 L1352.6 1216.3 L1356.6 1212.1 L1360.6 1207.5 L1364.6 1202.2 L1368.6 1196.4 L1372.6 1190.0 L1376.6 1183.3 L1380.6 1176.1 L1384.6 1167.9 L1388.6 1159.3 L1392.6 1150.7 L1396.6 1142.1 L1400.6 1133.4 L1404.6 1124.2 L1408.6 1114.5 L1412.6 1104.1 L1416.4 1093.1 L1419.6 1082.5 L1422.2 1073.0 L1424.2 1064.5 L1426.1 1056.5 L1427.9 1048.5 L1429.7 1040.5 L1431.5 1032.5 L1433.4 1024.5 L1435.2 1016.5 L1437.1 1008.5 L1438.9 1000.5 L1440.8 992.5 L1442.7 984.5 L1444.5 976.5 L1446.3 968.5 L1448.0 960.5 L1449.7 952.5 L1451.4 944.5 L1453.0 936.5 L1454.7 928.5 L1456.3 920.5 L1457.9 912.5 L1459.6 904.5 L1461.2 896.5 L1462.8 888.5 L1464.4 880.5 L1466.0 872.5 L1467.6 864.5 L1469.2 856.5 L1470.8 848.5 L1472.3 840.5 L1473.8 832.5 L1475.3 824.5 L1476.8 816.5 L1478.3 808.5 L1479.7 800.5 L1481.2 792.5 L1482.6 784.5 L1484.1 776.5 L1485.6 768.5 L1487.0 760.5 L1488.5 752.5 L1490.0 744.5 L1491.4 736.5 L1492.9 728.5 L1494.4 720.5 L1495.9 712.5 L1497.3 704.5 L1498.7 696.5 L1500.1 688.5 L1501.5 680.5 L1502.8 672.5 L1504.2 664.5 L1505.5 656.5 L1506.8 648.5 L1508.1 640.5 L1509.5 632.5 L1510.9 624.5 L1512.3 616.5 L1513.7 608.5 L1515.1 600.5 L1516.4 592.5 L1517.8 584.5 L1519.1 576.5 L1520.5 568.5 L1521.8 560.5 L1523.3 552.5 L1524.8 544.5 L1526.3 536.5 L1527.9 528.5 L1529.5 520.5 L1531.1 512.5 L1532.8 504.5 L1534.4 496.5 L1536.2 488.5 L1537.9 480.5 L1539.6 472.5 L1541.2 464.5 L1542.8 456.5 L1544.4 448.5 L1545.9 440.5 L1547.3 432.5 L1548.7 424.5 L1550.0 416.5 L1551.3 408.5 L1552.5 400.5 L1553.9 392.5 L1555.3 384.5 L1556.8 376.5 L1558.3 368.5 L1560.0 360.5 L1561.7 352.5 L1563.4 344.5 L1565.2 336.5 L1567.1 328.5 L1569.1 320.5 L1571.1 312.5 L1573.1 304.5 L1575.1 296.5 L1577.0 288.5 L1578.9 280.5 L1580.9 272.5 L1582.7 264.5 L1584.6 256.5 L1586.5 248.5 L1588.5 240.5 L1590.5 232.5 L1592.5 224.5 L1594.6 216.5 L1596.6 208.5 L1598.6 200.5 L1600.7 192.5 L1602.9 184.5 L1605.2 176.5 L1607.6 168.5 L1610.1 160.5 L1612.6 152.5 L1615.1 144.5 L1617.5 136.5 L1620.0 128.5 L1622.8 120.5 L1625.9 112.5 L1629.2 104.5 L1632.7 96.5 L1636.4 88.5 L1640.3 80.5 L1644.6 72.5 L1648.5 80.5 L1652.1 88.5 L1655.2 96.5 L1658.2 104.5 L1660.9 112.5 L1663.3 120.5 L1665.4 128.5 L1667.0 136.5 L1668.4 144.5 L1669.8 152.5 L1671.4 160.5 L1672.9 168.5 L1674.4 176.5 L1675.7 184.5 L1677.1 192.5 L1678.5 200.5 L1679.8 208.5 L1681.2 216.5 L1682.5 224.5 L1683.9 232.5 L1685.3 240.5 L1686.7 248.5 L1688.2 256.5 L1689.6 264.5 L1691.0 272.5 L1692.4 280.5 L1693.8 288.5 L1695.1 296.5 L1696.5 304.5 L1697.9 312.5 L1699.2 320.5 L1700.5 328.5 L1701.8 336.5 L1703.1 344.5 L1704.3 352.5 L1705.5 360.5 L1706.7 368.5 L1707.9 376.5 L1709.1 384.5 L1710.4 392.5 L1711.8 400.5 L1713.1 408.5 L1714.5 416.5 L1715.8 424.5 L1717.1 432.5 L1718.4 440.5 L1719.7 448.5 L1720.9 456.5 L1722.2 464.5 L1723.4 472.5 L1724.6 480.5 L1725.8 488.5 L1726.9 496.5 L1728.1 504.5 L1729.2 512.5 L1730.4 520.5 L1731.6 528.5 L1732.8 536.5 L1734.0 544.5 L1735.2 552.5 L1736.4 560.5 L1737.6 568.5 L1738.8 576.5 L1740.0 584.5 L1741.3 592.5 L1742.5 600.5 L1743.7 608.5 L1744.9 616.5 L1746.1 624.5 L1747.3 632.5 L1748.5 640.5 L1749.6 648.5 L1750.8 656.5 L1751.9 664.5 L1753.1 672.5 L1754.2 680.5 L1755.4 688.5 L1756.5 696.5 L1757.7 704.5 L1758.9 712.5 L1760.1 720.5 L1761.3 728.5 L1762.5 736.5 L1763.8 744.5 L1765.1 752.5 L1766.4 760.5 L1767.8 768.5 L1769.1 776.5 L1770.5 784.5 L1771.9 792.5 L1773.3 800.5 L1774.8 808.5 L1776.2 816.5 L1777.7 824.5 L1779.2 832.5 L1780.6 840.5 L1782.1 848.5 L1783.6 856.5 L1785.1 864.5 L1786.6 872.5 L1788.1 880.5 L1789.5 888.5 L1791.0 896.5 L1792.5 904.5 L1794.0 912.5 L1795.5 920.5 L1797.1 928.5 L1798.6 936.5 L1800.2 944.5 L1801.8 952.5 L1803.4 960.5 L1805.1 968.5 L1806.8 976.5 L1808.5 984.5 L1810.3 992.5 L1812.1 1000.5 L1813.9 1008.5 L1815.9 1016.5 L1818.0 1024.5 L1820.1 1032.5 L1822.3 1040.5 L1824.5 1048.5 L1826.8 1056.5 L1829.2 1064.5 L1831.8 1073.1 L1834.7 1082.9 L1838.1 1094.5 L1841.9 1107.0 L1845.9 1119.5 L1849.9 1131.4 L1853.9 1142.6 L1857.9 1153.1 L1861.9 1163.2 L1865.9 1172.9 L1869.9 1182.4 L1873.9 1191.6 L1877.9 1200.7 L1881.9 1209.6 L1885.9 1218.6 L1889.9 1227.3 L1893.9 1234.7 L1897.9 1240.5 L1901.9 1245.7 L1905.9 1250.9 L1909.9 1256.7 L1913.9 1262.6 L1917.9 1268.3 L1921.9 1273.4 L1925.9 1278.3 L1929.9 1282.9 L1933.9 1287.2 L1937.9 1291.4 L1941.9 1295.1 L1945.9 1298.2 L1949.9 1301.1 L1953.9 1303.6 L1957.9 1305.3 L1961.9 1305.4 L1966.0 1304.7 L1970.0 1303.8 L1974.0 1303.0 L1978.0 1302.7 L1982.0 1302.7 L1986.0 1302.7 L1990.0 1302.7 L1994.0 1302.7 L1998.0 1302.7 L2002.0 1302.7 L2006.0 1302.7 L2010.0 1302.7 L2014.0 1302.7 L2018.0 1302.7 L2022.0 1302.7 L2026.0 1302.7 L2030.0 1302.7 L2034.0 1302.7 L2038.0 1302.7 L2042.0 1302.7 L2046.0 1302.7 L2050.0 1302.7 L2054.0 1302.4 L2058.0 1301.7 L2062.0 1300.8 L2066.0 1299.7 L2070.0 1298.7 L2074.0 1297.8 L2078.0 1296.9 L2082.0 1295.9 L2086.0 1294.9 L2090.0 1293.9 L2094.0 1292.8 L2098.0 1291.6 L2102.0 1290.4 L2106.0 1289.0 L2110.0 1287.7 L2114.0 1286.4 L2118.0 1285.1 L2122.0 1283.9 L2126.0 1282.8 L2130.0 1281.7 L2134.0 1280.6 L2138.0 1279.6 L2142.0 1278.6 L2146.0 1277.8 L2150.0 1277.0 L2154.0 1276.3 L2158.0 1275.6 L2162.0 1275.0 L2166.0 1274.5 L2170.0 1274.0"/>
<path stroke="#00ff00" d="M300.0 1297.5 L304.0 1297.5 L308.0 1297.5 L312.0 1297.5 L316.0 1297.5 L320.0 1297.5 L324.0 1297.5 L328.0 1297.5 L332.0 1297.5 L336.0 1297.5 L340.1 1297.5 L344.1 1297.5 L348.1 1297.5 L352.1 1297.5 L356.1 1297.5 L360.1 1297.5 L364.1 1297.5 L368.1 1298.0 L372.1 1299.3 L376.1 1300.1 L380.1 1300.6 L384.1 1301.0 L388.1 1301.4 L392.1 1301.7 L396.1 1301.9 L400.1 1302.2 L404.1 1302.4 L408.1 1302.7 L412.1 1303.0 L416.1 1303.3 L420.2 1303.7 L424.2 1304.0 L428.2 1304.3 L432.2 1304.6 L436.2 1305.0 L440.2 1305.3 L444.2 1305.6 L448.2 1305.9 L452.2 1306.2 L456.2 1306.5 L460.2 1306.8 L464.2 1307.1 L468.2 1307.4 L472.2 1307.7 L476.2 1308.0 L480.2 1308.3 L484.2 1308.5 L488.2 1308.7 L492.2 1308.9 L496.2 1309.0 L500.3 1309.0 L504.3 1309.0 L508.3 1309.0 L512.3 1309.0 L516.3 1309.0 L520.3 1309.0 L524.3 1309.0 L528.3 1309.0 L532.3 1309.0 L536.3 1309.0 L540.3 1309.0 L544.3 1308.8 L548.3 1308.3 L552.3 1307.6 L556.3 1306.9 L560.3 1306.2 L564.3 1305.7 L568.3 1305.3 L572.3 1304.8 L576.3 1304.4 L580.4 1304.0 L584.4 1303.6 L588.4 1303.2 L592.4 1302.8 L596.4 1302.4 L600.4 1302.0 L604.4 1301.6 L608.4 1301.2 L612.4 1300.8 L616.4 1300.4 L620.4 1300.0 L624.4 1299.6 L628.4 1299.2 L632.4 1298.7 L636.4 1298.3 L640.4 1297.9 L644.4 1297.5 L648.4 1297.1 L652.4 1296.8 L656.4 1296.5 L660.5 1296.1 L664.5 1295.8 L668.5 1295.5 L672.5 1295.2 L676.5 1294.9 L680.5 1294.5 L684.5 1294.2 L688.5 1293.8 L692.5 1293.5 L696.5 1293.1 L700.5 1292.6 L704.5 1292.1 L708.5 1291.5 L712.5 1290.9 L716.5 1290.3 L720.5 1289.8 L724.5 1289.5 L728.5 1289.4 L732.5 1289.2 L736.5 1289.1 L740.6 1289.0 L744.6 1288.9 L748.6 1288.8 L752.6 1288.8 L756.6 1288.7 L760.6 1288.7 L764.6 1288.7 L768.6 1288.8 L772.6 1289.0 L776.6 1289.2 L780.6 1289.5 L784.6 1289.8 L788.6 1290.1 L792.6 1290.6 L796.6 1291.3 L800.6 1292.0 L804.6 1292.7 L808.6 1293.5 L812.6 1294.1 L816.6 1294.7 L820.7 1295.2 L824.7 1295.8 L828.7 1296.3 L832.7 1296.9 L836.7 1297.4 L840.7 1298.1 L844.7 1298.8 L848.7 1299.5 L852.7 1300.2 L856.7 1301.0 L860.7 1301.8 L864.7 1302.5 L868.7 1303.2 L872.7 1303.7 L876.7 1304.3 L880.7 1304.9 L884.7 1305.4 L888.7 1305.9 L892.7 1306.3 L896.7 1306.5 L900.8 1306.8 L904.8 1307.1 L908.8 1307.3 L912.8 1307.5 L916.8 1307.8 L920.8 1308.0 L924.8 1308.2 L928.8 1308.3 L932.8 1308.5 L936.8 1308.6 L940.8 1308.8 L944.8 1308.9 L948.8 1308.9 L952.8 1309.0 L956.8 1309.0 L960.8 1309.0 L964.8 1309.0 L968.8 1309.0 L972.8 1309.0 L976.8 1309.0 L980.9 1309.0 L984.9 1309.0 L988.9 1309.0 L992.9 1309.0 L996.9 1309.0 L1000.9 1309.0 L1004.9 1309.0 L1008.9 1309.0 L1012.9 1309.0 L1016.9 1309.0 L1020.9 1309.0 L1024.9 1309.0 L1028.9 1309.0 L1032.9 1309.0 L1036.9 1309.0 L1040.9 1309.0 L1044.9 1309.0 L1048.9 1308.9 L1052.9 1308.3 L1056.9 1307.4 L1061.0 1306.2 L1065.0 1305.1 L1069.0 1304.0 L1073.0 1303.1 L1077.0 1302.2 L1081.0 1301.3 L1085.0 1300.4 L1089.0 1299.5 L1093.0 1298.7 L1097.0 1297.8 L1101.0 1296.9 L1105.0 1296.0 L1109.0 1295.1 L1113.0 1294.2 L1117.0 1293.3 L1121.0 1292.5 L1125.0 1291.7 L1129.0 1290.9 L1133.0 1290.1 L1137.1 1289.3 L1141.1 1288.5 L1145.1 1287.7 L1149.1 1286.9 L1153.1 1286.1 L1157.1 1285.2 L1161.1 1284.4 L1165.1 1283.6 L1169.1 1282.8 L1173.1 1282.1 L1177.1 1281.4 L1181.1 1280.8 L1185.1 1280.1 L1189.1 1279.5 L1193.1 1278.9 L1197.1 1278.3 L1201.1 1277.7 L1205.1 1277.1 L1209.1 1276.5 L1213.1 1276.0 L1217.2 1275.8 L1221.2 1275.7 L1225.2 1275.9 L1229.2 1276.3 L1233.2 1276.8 L1237.2 1277.5 L1241.2 1278.1 L1245.2 1278.9 L1249.2 1279.6 L1253.2 1280.7 L1257.2 1281.8 L1261.2 1283.1 L1265.2 1284.3 L1269.2 1285.5 L1273.2 1286.6 L1277.2 1287.8 L1281.2 1289.1 L1285.2 1290.3 L1289.2 1291.3 L1293.2 1291.9 L1297.3 1292.0 L1301.3 1291.6 L1305.3 1291.0 L1309.3 1290.1 L1313.3 1289.0 L1317.3 1287.9 L1321.3 1286.9 L1325.3 1285.8 L1329.3 1284.4 L1333.3 1282.9 L1337.3 1281.5 L1341.3 1280.3 L1345.3 1279.6 L1349.3 1279.2 L1353.3 1278.8 L1357.3 1278.5 L1361.3 1278.3 L1365.3 1278.1 L1369.3 1278.0 L1373.3 1278.1 L1377.4 1278.5 L1381.4 1279.0 L1385.4 1279.9 L1389.4 1281.1 L1393.4 1282.3 L1397.4 1283.2 L1401.4 1283.7 L1405.4 1283.7 L1409.4 1283.6 L1413.4 1283.6 L1417.4 1283.4 L1421.4 1283.3 L1425.4 1283.1 L1429.4 1282.5 L1433.4 1281.5 L1437.4 1280.1 L1441.4 1278.6 L1445.4 1277.0 L1449.4 1275.2 L1453.4 1272.9 L1457.5 1270.2 L1461.5 1267.4 L1465.5 1264.7 L1469.5 1262.1 L1473.5 1259.7 L1477.5 1257.4 L1481.5 1255.0 L1485.5 1252.6 L1489.5 1250.0 L1493.5 1247.2 L1497.5 1244.3 L1501.5 1241.3 L1505.5 1238.2 L1509.5 1235.1 L1513.5 1231.9 L1517.5 1228.7 L1521.5 1225.5 L1525.5 1222.2 L1529.5 1218.8 L1533.5 1215.5 L1537.6 1212.2 L1541.6 1209.0 L1545.6 1205.6 L1549.6 1202.2 L1553.6 1198.5 L1557.6 1194.4 L1561.6 1190.3 L1565.6 1186.6 L1569.6 1183.3 L1573.6 1180.4 L1577.6 1177.5 L1581.6 1174.7 L1585.6 1171.8 L1589.6 1168.5 L1593.6 1164.8 L1597.6 1160.4 L1601.6 1155.2 L1605.6 1149.5 L1609.6 1143.5 L1613.6 1137.4 L1617.7 1131.0 L1621.7 1123.8 L1625.7 1115.2 L1629.7 1105.1 L1633.6 1093.8 L1637.4 1082.7 L1640.8 1072.8 L1643.7 1064.2 L1646.2 1056.3 L1648.6 1048.5 L1651.0 1040.5 L1653.3 1032.5 L1655.7 1024.5 L1657.9 1016.5 L1660.2 1008.5 L1662.3 1000.5 L1664.5 992.5 L1666.5 984.5 L1668.6 976.5 L1670.6 968.5 L1672.6 960.5 L1674.5 952.5 L1676.4 944.5 L1678.3 936.5 L1680.1 928.5 L1682.0 920.5 L1683.8 912.5 L1685.6 904.5 L1687.3 896.5 L1689.1 888.5 L1690.8 880.5 L1692.5 872.5 L1694.2 864.5 L1695.9 856.5 L1697.5 848.5 L1699.2 840.5 L1700.8 832.5 L1702.4 824.5 L1703.9 816.5 L1705.5 808.5 L1707.0 800.5 L1708.5 792.5 L1710.0 784.5 L1711.5 776.5 L1712.9 768.5 L1714.4 760.5 L1715.8 752.5 L1717.3 744.5 L1718.7 736.5 L1720.1 728.5 L1721.5 720.5 L1722.9 712.5 L1724.3 704.5 L1725.8 696.5 L1727.2 688.5 L1728.7 680.5 L1730.1 672.5 L1731.7 664.5 L1733.2 656.5 L1734.7 648.5 L1736.3 640.5 L1738.0 632.5 L1739.7 624.5 L1741.5 616.5 L1743.4 608.5 L1745.2 600.5 L1747.1 592.5 L1748.9 584.5 L1750.7 576.5 L1752.6 568.5 L1754.4 560.5 L1756.1 552.5 L1757.8 544.5 L1759.5 536.5 L1761.2 528.5 L1762.8 520.5 L1764.4 512.5 L1765.9 504.5 L1767.4 496.5 L1768.9 488.5 L1770.4 480.5 L1771.8 472.5 L1773.3 464.5 L1774.8 456.5 L1776.2 448.5 L1777.7 440.5 L1779.2 432.5 L1780.9 424.5 L1782.6 416.5 L1784.5 408.5 L1786.3 400.5 L1788.2 392.5 L1789.9 384.5 L1791.6 376.5 L1793.1 368.5 L1794.6 360.5 L1796.1 352.5 L1797.7 344.5 L1799.4 336.5 L1801.0 328.5 L1802.7 320.5 L1804.5 312.5 L1806.2 304.5 L1808.0 296.5 L1809.8 288.5 L1811.6 280.5 L1813.4 272.5 L1815.2 264.5 L1817.1 256.5 L1819.0 248.5 L1820.8 240.5 L1822.7 232.5 L1824.5 224.5 L1826.3 216.5 L1828.0 208.5 L1829.7 200.5 L1831.5 192.5 L1833.3 184.5 L1835.2 176.5 L1837.3 168.5 L1839.5 160.5 L1841.9 152.5 L1844.2 144.5 L1846.6 136.5 L1849.1 128.5 L1852.0 120.5 L1855.2 112.5 L1858.9 104.5 L1862.8 96.5 L1866.9 88.5 L1871.5 80.5 L1876.7 72.5 L1879.5 80.5 L1882.1 88.5 L1884.5 96.5 L1886.8 104.5 L1889.0 112.5 L1891.1 120.5 L1893.0 128.5 L1894.8 136.5 L1896.5 144.5 L1898.2 152.5 L1899.9 160.5 L1901.4 168.5 L1902.7 176.5 L1903.9 184.5 L1905.1 192.5 L1906.4 200.5 L1907.8 208.5 L1909.4 216.5 L1911.1 224.5 L1912.7 232.5 L1914.3 240.5 L1915.9 248.5 L1917.5 256.5 L1918.9 264.5 L1920.2 272.5 L1921.4 280.5 L1922.6 288.5 L1923.7 296.5 L1924.6 304.5 L1925.6 312.5 L1926.6 320.5 L1927.8 328.5 L1928.9 336.5 L1930.1 344.5 L1931.3 352.5 L1932.5 360.5 L1933.7 368.5 L1935.0 376.5 L1936.2 384.5 L1937.4 392.5 L1938.6 400.5 L1939.8 408.5 L1941.0 416.5 L1942.2 424.5 L1943.4 432.5 L1944.6 440.5 L1945.8 448.5 L1947.0 456.5 L1948.2 464.5 L1949.4 472.5 L1950.6 480.5 L1951.7 488.5 L1952.8 496.5 L1953.9 504.5 L1955.0 512.5 L1956.1 520.5 L1957.2 528.5 L1958.2 536.5 L1959.2 544.5 L1960.3 552.5 L1961.3 560.5 L1962.3 568.5 L1963.3 576.5 L1964.3 584.5 L1965.2 592.5 L1966.2 600.5 L1967.2 608.5 L1968.2 616.5 L1969.1 624.5 L1970.1 632.5 L1971.1 640.5 L1972.1 648.5 L1973.1 656.5 L1974.1 664.5 L1975.1 672.5 L1976.2 680.5 L1977.3 688.5 L1978.4 696.5 L1979.5 704.5 L1980.6 712.5 L1981.7 720.5 L1982.8 728.5 L1984.0 736.5 L1985.1 744.5 L1986.2 752.5 L1987.3 760.5 L1988.5 768.5 L1989.6 776.5 L1990.8 784.5 L1991.9 792.5 L1993.0 800.5 L1994.1 808.5 L1995.2 816.5 L1996.3 824.5 L1997.4 832.5 L1998.6 840.5 L1999.7 848.5 L2000.9 856.5 L2002.1 864.5 L2003.3 872.5 L2004.4 880.5 L2005.6 888.5 L2006.8 896.5 L2008.1 904.5 L2009.3 912.5 L2010.6 920.5 L2011.9 928.5 L2013.2 936.5 L2014.5 944.5 L2015.9 952.5 L2017.3 960.5 L2018.7 968.5 L2020.1 976.5 L2021.6 984.5 L2023.1 992.5 L2024.6 1000.5 L2026.1 1008.5 L2027.6 1016.5 L2029.2 1024.5 L2030.7 1032.5 L2032.3 1040.5 L2033.8 1048.5 L2035.4 1056.5 L2037.0 1064.7 L2038.8 1074.0 L2041.2 1086.1 L2044.4 1101.6 L2048.2 1118.7 L2052.2 1135.1 L2056.3 1150.3 L2060.3 1164.3 L2064.4 1177.2 L2068.5 1188.8 L2072.5 1199.5 L2076.6 1208.0 L2080.6 1216.4 L2084.7 1225.0 L2088.8 1233.3 L2092.8 1240.5 L2096.9 1246.6 L2101.0 1252.1 L2105.0 1257.1 L2109.1 1261.8 L2113.1 1266.1 L2117.2 1270.1 L2121.3 1273.5 L2125.3 1276.6 L2129.4 1279.3 L2133.4 1281.5 L2137.5 1283.4 L2141.6 1285.0 L2145.6 1286.2 L2149.7 1287.2 L2153.8 1288.2 L2157.8 1289.0 L2161.9 1289.7 L2165.9 1290.2 L2170.0 1290.5"/>
</g>
<path d="M359.5 162.3 H565.7" stroke="#000000" stroke-width="12.4" stroke-linecap="round" fill="none"/>
<path d="M359.5 276.7 H565.7" stroke="#ff0000" stroke-width="12.4" stroke-linecap="round" fill="none"/>
<path d="M359.5 392.2 H565.7" stroke="#0000ff" stroke-width="12.4" stroke-linecap="round" fill="none"/>
<path d="M359.5 506.2 H565.7" stroke="#00ff00" stroke-width="12.4" stroke-linecap="round" fill="none"/>
<text transform="translate(154.69 100.96) scale(0.9893 1.0361)" font-size="91.67">1.0</text>
<text transform="translate(151.81 721.86) scale(0.9846 1.0361)" font-size="91.67">0.5</text>
<text transform="translate(151.69 1339.86) scale(1.0154 1.0361)" font-size="91.67">0.0</text>
<text transform="translate(558.56 1420.96) scale(1.0352 1.0361)" font-size="91.67">2000</text>
<text transform="translate(1022.12 1420.96) scale(1.0449 1.0361)" font-size="91.67">2400</text>
<text transform="translate(1483.72 1420.96) scale(1.0449 1.0361)" font-size="91.67">2800</text>
<text transform="translate(1948.76 1420.96) scale(1.0358 1.0361)" font-size="91.67">3200</text>
<text transform="translate(588.79 192.90) scale(1.0036 1.0300)" font-size="91.67">4.12µm</text>
<text transform="translate(588.79 307.90) scale(1.0064 1.0317)" font-size="91.67">4.275µm</text>
<text transform="translate(588.79 422.90) scale(1.0064 1.0300)" font-size="91.67">4.515µm</text>
<text transform="translate(588.79 537.00) scale(1.0064 1.0317)" font-size="91.67">4.685µm</text>
<text transform="translate(901.80 1524.99) scale(0.9840 1.0141)" font-size="91.67">Wavenumber/cm</text>
<text transform="translate(1523.04 1483.80) scale(0.9318 1.0333)" font-size="59.60">-1</text>
<text transform="translate(1087.68 1674.03) scale(0.9558 0.9561)" font-size="91.67">(<tspan font-weight="bold">b</tspan>)</text>
<text transform="translate(104.82 1204.87) rotate(-90) scale(1.0242 0.9988)" font-size="91.67">Normalized Spectrum(a.u.)</text>
</svg></body></html>
